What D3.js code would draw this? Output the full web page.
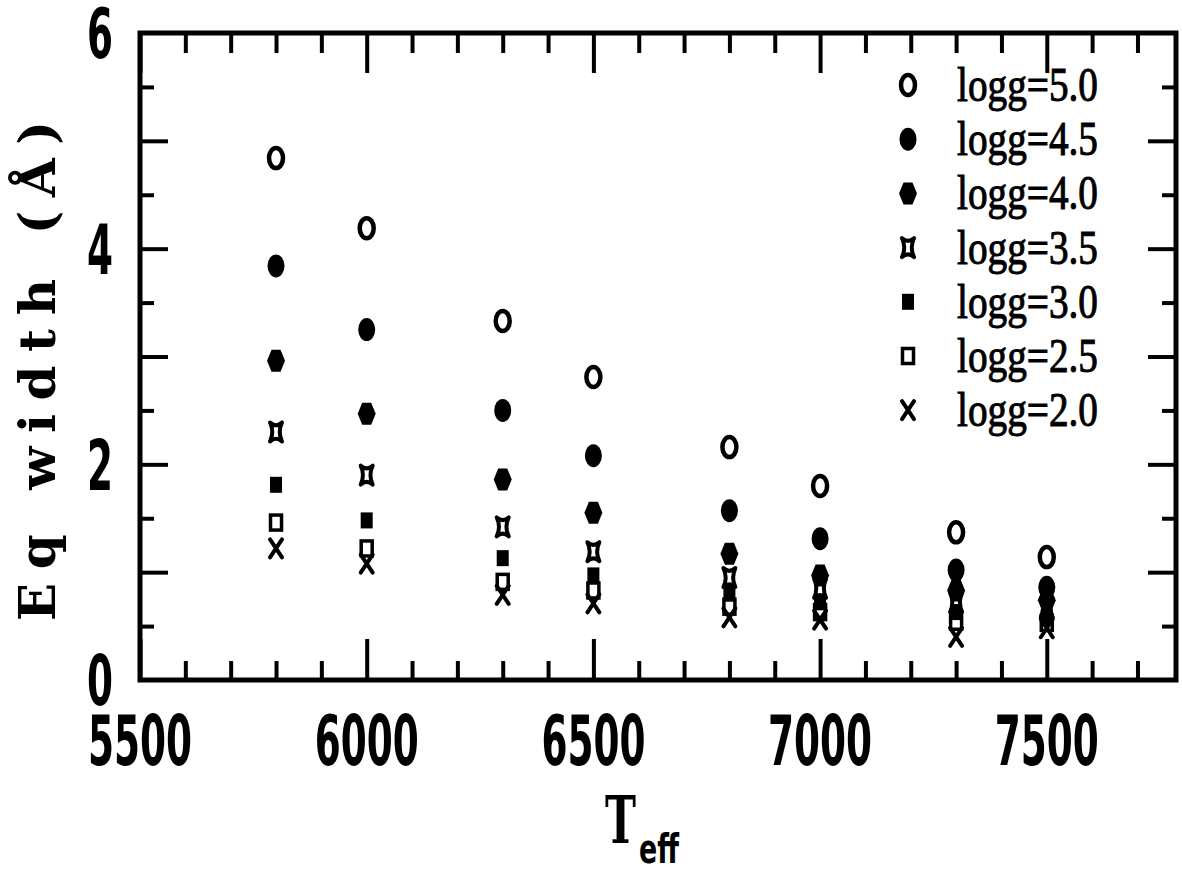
<!DOCTYPE html>
<html lang="en">
<head>
    <meta charset="UTF-8">
    <script src="https://d3js.org/d3.v7.min.js"></script>
    <title>Eq width vs Teff</title>
    <style>
        body { margin: 0; background: #fff; }
        svg { display: block; }
    </style>
</head>
<body>
    <script>
        // effective temperatures (x) and equivalent widths per log g
        var temps = [5800, 6000, 6300, 6500, 6800, 7000, 7300, 7500]
        var g50 = [4.84, 4.19, 3.33, 2.81, 2.16, 1.80, 1.37, 1.14]
        var g45 = [3.84, 3.25, 2.50, 2.08, 1.57, 1.31, 1.02, 0.86]
        var g40 = [2.96, 2.47, 1.86, 1.55, 1.17, 0.97, 0.83, 0.74]
        var g35 = [2.30, 1.90, 1.42, 1.19, 0.95, 0.85, 0.72, 0.67]
        var g30 = [1.81, 1.48, 1.13, 0.97, 0.80, 0.72, 0.63, 0.58]
        var g25 = [1.46, 1.22, 0.91, 0.83, 0.68, 0.63, 0.54, 0.53]
        var g20 = [1.22, 1.08, 0.79, 0.71, 0.58, 0.56, 0.40, 0.48]
        var loggLabels = ["logg=5.0", "logg=4.5", "logg=4.0", "logg=3.5", "logg=3.0", "logg=2.5", "logg=2.0"]
        var xTickLabels = [5500, 6000, 6500, 7000, 7500]
        var yTickLabels = [0, 2, 4, 6]

        var series = [g50, g45, g40, g35, g30, g25, g20]
        var shapes = ["ocircle", "circle", "hex", "star", "square", "osquare", "cross"]

        var W = 1182, H = 871
        var pl = 140, pr = 1176, pt = 33, pb = 680

        var x = d3.scaleLinear().domain([5500, 7785]).range([pl, pr])
        var y = d3.scaleLinear().domain([0, 6]).range([pb, pt])

        var svg = d3.select("body").append("svg")
            .attr("width", W).attr("height", H)

        var numFont = "'Liberation Sans Narrow', 'DejaVu Sans Condensed', sans-serif"

        // minor + major ticks on all four sides, pointing inward
        function tickAxis(axis, values, size, tx, ty) {
            var g = svg.append("g")
                .attr("transform", "translate(" + tx + "," + ty + ")")
                .call(axis.tickValues(values).tickSizeInner(size).tickSizeOuter(0).tickFormat(""))
            g.select(".domain").remove()
            g.selectAll(".tick line").attr("stroke", "#000").attr("stroke-width", 4)
            return g
        }
        var xMinor = d3.range(5600, 7785, 100).filter(function (v) { return v % 500 !== 0 })
        var xMajor = d3.range(5500, 7785, 500)
        var yMinor = d3.range(0.5, 6, 1)
        var yMajor = d3.range(1, 6, 1)

        tickAxis(d3.axisBottom(x), xMinor, -19, 0, pb)
        tickAxis(d3.axisBottom(x), xMajor, -41, 0, pb)
        tickAxis(d3.axisTop(x), xMinor, -20, 0, pt)
        tickAxis(d3.axisTop(x), xMajor, -40, 0, pt)
        tickAxis(d3.axisLeft(y), yMinor, -14, pl, 0)
        tickAxis(d3.axisLeft(y), yMajor, -28, pl, 0)
        tickAxis(d3.axisRight(y), yMinor, -14, pr, 0)
        tickAxis(d3.axisRight(y), yMajor, -28, pr, 0)

        // frame
        svg.append("rect")
            .attr("x", pl).attr("y", pt)
            .attr("width", pr - pl).attr("height", pb - pt)
            .attr("fill", "none").attr("stroke", "#000").attr("stroke-width", 5)

        // tick labels
        svg.append("g").selectAll("text")
            .data(xTickLabels)
            .join("text")
            .attr("x", function (d) { return x(d) })
            .attr("y", 765)
            .attr("text-anchor", "middle")
            .attr("font-family", numFont).attr("font-weight", "bold").attr("font-size", 70)
            .attr("textLength", 104).attr("lengthAdjust", "spacingAndGlyphs")
            .text(function (d) { return d })

        svg.append("g").selectAll("text")
            .data(yTickLabels)
            .join("text")
            .attr("x", pl - 27)
            .attr("y", function (d) { return y(d) })
            .attr("dy", "0.36em")
            .attr("text-anchor", "end")
            .attr("font-family", numFont).attr("font-weight", "bold").attr("font-size", 70)
            .attr("textLength", 26).attr("lengthAdjust", "spacingAndGlyphs")
            .text(function (d) { return d })

        // axis titles
        svg.append("text")
            .attr("transform", "translate(55,371) rotate(-90)")
            .attr("text-anchor", "middle")
            .attr("font-family", "'DejaVu Serif', serif")
            .attr("font-weight", "bold").attr("font-size", 50)
            .attr("textLength", 500).attr("lengthAdjust", "spacing")
            .text("Eq width (Å)")

        svg.append("text")
            .attr("x", 605).attr("y", 843)
            .attr("font-family", "'DejaVu Serif', serif").attr("font-weight", "bold")
            .attr("font-size", 66).attr("textLength", 31).attr("lengthAdjust", "spacingAndGlyphs")
            .text("T")
        svg.append("text")
            .attr("x", 639).attr("y", 863)
            .attr("font-family", numFont).attr("font-weight", "bold")
            .attr("font-size", 40).attr("textLength", 40).attr("lengthAdjust", "spacingAndGlyphs")
            .text("eff")

        // marker drawing
        function drawMarker(sel, kind) {
            if (kind === "ocircle") {
                sel.append("ellipse").attr("rx", 7).attr("ry", 10)
                    .attr("fill", "none").attr("stroke", "#000").attr("stroke-width", 4.5)
            } else if (kind === "circle") {
                sel.append("ellipse").attr("rx", 8.5).attr("ry", 11.5).attr("fill", "#000")
            } else if (kind === "hex") {
                sel.append("path").attr("d", "M-9,0 L-4.5,-11 L4.5,-11 L9,0 L4.5,11 L-4.5,11 Z")
                    .attr("fill", "#000")
            } else if (kind === "star") {
                sel.append("path")
                    .attr("d", "M-6,-9.5 Q0,-4 6,-9.5 Q1.5,0 6,9.5 Q0,4 -6,9.5 Q-1.5,0 -6,-9.5 Z")
                    .attr("fill", "none").attr("stroke", "#000").attr("stroke-width", 4)
                    .attr("stroke-linejoin", "round")
            } else if (kind === "square") {
                sel.append("rect").attr("x", -6).attr("y", -8).attr("width", 12).attr("height", 16)
                    .attr("fill", "#000")
            } else if (kind === "osquare") {
                sel.append("rect").attr("x", -5.5).attr("y", -7.5).attr("width", 11).attr("height", 15)
                    .attr("fill", "none").attr("stroke", "#000").attr("stroke-width", 3.5)
            } else if (kind === "cross") {
                sel.append("path").attr("d", "M-6,-9 L6,9 M6,-9 L-6,9")
                    .attr("stroke", "#000").attr("stroke-width", 4).attr("stroke-linecap", "round")
            }
        }

        // data points
        series.forEach(function (vals, si) {
            var pts = svg.append("g").selectAll("g")
                .data(vals.map(function (v, i) { return { t: temps[i], w: v } }))
                .join("g")
                .attr("transform", function (d) { return "translate(" + x(d.t) + "," + y(d.w) + ")" })
            pts.each(function () { drawMarker(d3.select(this), shapes[si]) })
        })

        // legend
        var legend = svg.append("g").selectAll("g")
            .data(loggLabels)
            .join("g")
            .attr("transform", function (d, i) { return "translate(908," + (85 + i * 54.2) + ")" })
        legend.each(function (d, i) { drawMarker(d3.select(this), shapes[i]) })
        legend.append("text")
            .attr("x", 49).attr("y", 16)
            .attr("font-family", "'Liberation Serif', serif").attr("font-size", 48)
            .attr("stroke", "#000").attr("stroke-width", 1)
            .attr("textLength", 141).attr("lengthAdjust", "spacingAndGlyphs")
            .text(function (d) { return d })
    </script>
</body>
</html>
